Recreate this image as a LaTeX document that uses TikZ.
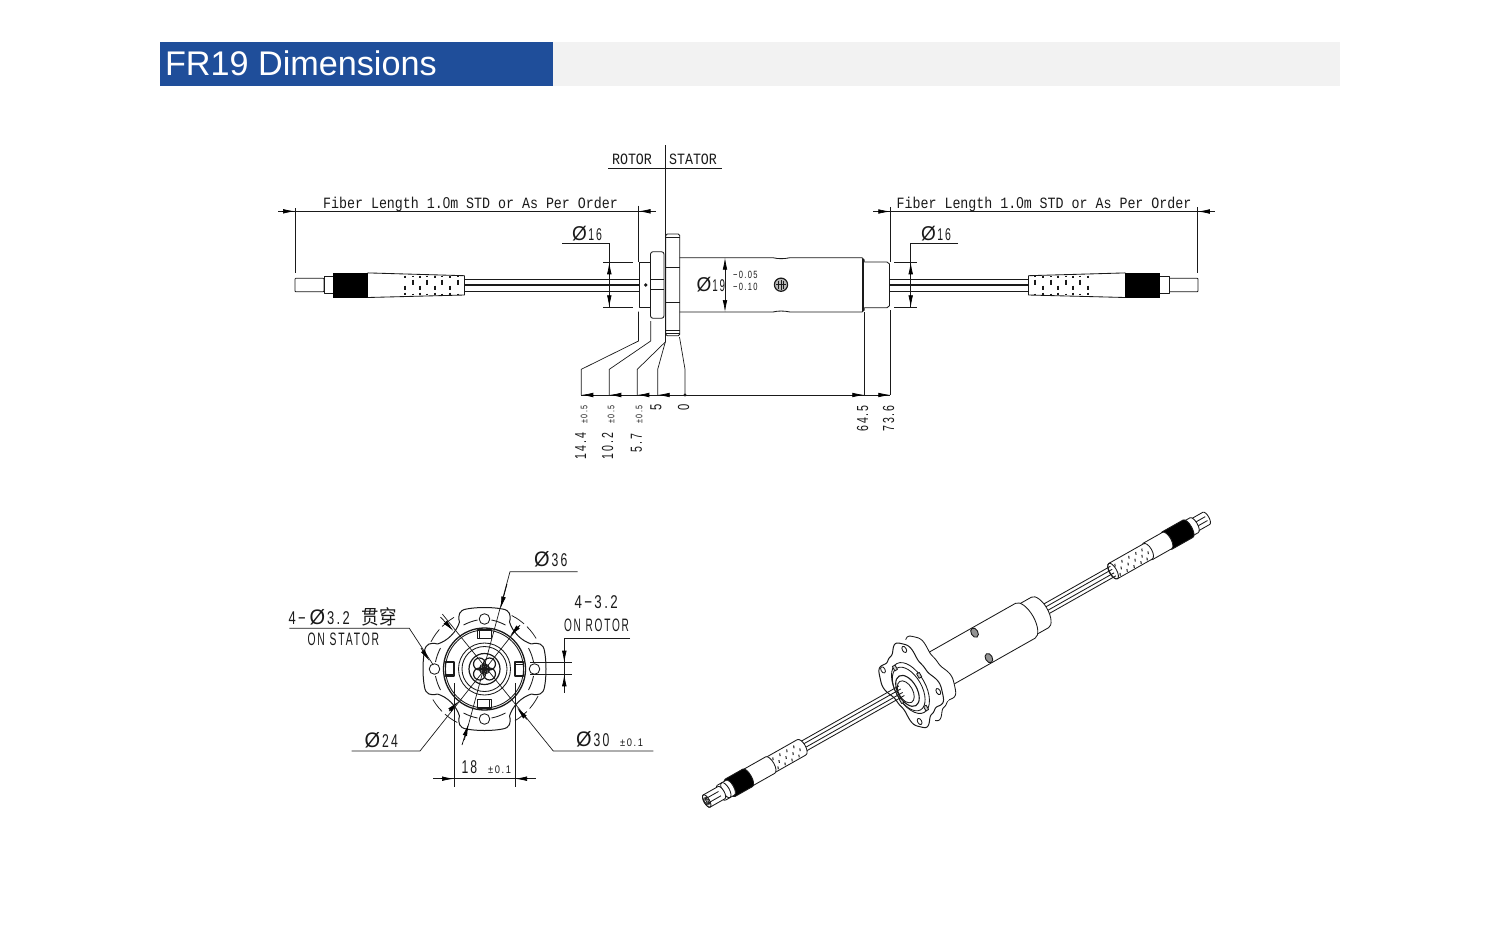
\documentclass[tikz,border=0pt]{standalone}
\usepackage{fontspec}
\setmainfont{Liberation Sans}
\newfontfamily\monof{Liberation Mono}
\newfontfamily\spacedf[LetterSpace=18]{Liberation Sans}
\newfontfamily\cjkf{Noto Sans CJK SC}[Scale=1]
\usetikzlibrary{arrows.meta}
\definecolor{ink}{HTML}{1A1A1A}
\definecolor{headblue}{HTML}{1F4E9A}
\definecolor{headgray}{HTML}{F2F2F2}
\newcommand{\mono}[2]{\scalebox{1}[1.18]{\monof\fontsize{#1}{#1}\selectfont #2}}
\newcommand{\plainzero}{{\rmfamily 0}}
% narrow drawing-style text: size, horizontal squeeze, text
\newcommand{\nar}[3]{\scalebox{#2}[1]{\spacedf\fontsize{#1}{#1}\selectfont #3}}
\newcommand{\phisym}[1]{\scalebox{1}[1.05]{\fontsize{#1}{#1}\selectfont Ø}}
\tikzset{
  x=1pt,y=-1pt,
  part/.style={draw=ink,line width=.85pt,line join=round},
  heavy/.style={draw=ink,line width=1.3pt},
  dimline/.style={draw=ink,line width=.7pt},
  tip/.style={draw=black,line width=.7pt,-{Latex[length=12pt,width=4.6pt]}},
  lab/.style={inner sep=0pt,outer sep=0pt,text=ink},
}
% cylinder in the isometric scope: s0, s1, radius, ellipse half-width
\newcommand{\cyl}[5][white]{\draw[part,fill=#1] (#3,-#4) arc[start angle=90,end angle=-90,x radius=#5pt,y radius=#4pt] -- (#2,#4) arc[start angle=-90,end angle=-270,x radius=#5pt,y radius=#4pt] -- cycle;}
% flat connector of the front view, drawn for the left end
\newcommand{\frontconn}{%
  \draw[part,fill=white,rounded corners=.8pt] (295,278.3) rectangle (324,291.7);
  \draw[part,fill=white] (324,276) rectangle (333.3,293.5);
  \fill[black] (333.3,272.7) rectangle (367.7,297.7);
  \draw[part] (367.7,272.9) -- (464.5,275.7) -- (464.5,295) -- (367.7,297.5);
  \foreach \c in {405,450,495,540}{
    \draw[ink,line width=1.8pt] (270+\c/3,275.5) -- ++(0,2.2) (270+\c/3,285.5) -- ++(0,4) (270+\c/3,292.5) -- ++(0,2.4);}
  \foreach \c in {428,472,517,565}{
    \draw[ink,line width=1.8pt] (270+\c/3,275.5) -- ++(0,1.2) (270+\c/3,279.5) -- ++(0,5.5) (270+\c/3,293.5) -- ++(0,1.4);}
}
\newcommand{\lobeR}{(41+6*cos(4*\x-112)-1*cos(12*\x-336))}
\begin{document}
\begin{tikzpicture}
\useasboundingbox (0,0) rectangle (1500,927);
\fill[white] (0,0) rectangle (1500,927);
% ---- header
\fill[headgray] (553,41.5) rectangle (1340,86);
\fill[headblue] (159.5,41.5) rectangle (553,86);
\node[lab,anchor=west,text=white,font=\fontsize{34.2}{34.2}\selectfont] (title) at (165,63.5) {FR19 Dimensions};

% ---- front view: connectors and cables
\frontconn
\begin{scope}[xshift=1493pt,xscale=-1]\frontconn\end{scope}
\foreach \xa/\xb in {464.5/639,890/1028.5}{
  \draw[part] (\xa,279) -- (\xb,279) (\xa,291.5) -- (\xb,291.5);
  \draw[heavy] (\xa,285) -- (\xb,285);}
% ---- front view: body
\draw[part,fill=white] (639,262.3) rectangle (650,307.3);
\fill[ink] (645.7,285) circle (1.8);
\draw[part,fill=white,rounded corners=2.5pt] (650.5,251.7) rectangle (664,318.3);
\draw[heavy] (650.5,279.3) -- (664,279.3) (650.5,289.3) -- (664,289.3);
\draw[part,fill=white,rounded corners=1.5pt] (665.7,234) rectangle (679.7,335.7);
\draw[heavy] (665.7,267.7) -- (679.7,267.7) (665.7,302.3) -- (679.7,302.3);
\draw[part] (666,237.5) -- (679.5,237.5) (666,330.5) -- (679.5,330.5) (666,333) -- (679.5,333);
\draw[part] (679.7,257.7) -- (773,257.7) .. controls (778,259) and (784,259) .. (790,257.7) -- (862,257.7) -- (864.3,260) -- (864.3,262);
\draw[part] (679.7,312) -- (773,312) .. controls (778,310.7) and (784,310.7) .. (790,312) -- (862,312) -- (864.3,310) -- (864.3,307.7);
\draw[line width=1.1pt,draw=ink] (863,259) -- (863,311);
\draw[part] (864.3,262) -- (887,262) -- (889.5,264) -- (889.5,305.7) -- (887,307.7) -- (864.3,307.7);
\draw[ink,line width=1.2pt,fill=gray!55] (781,284.7) circle (6.6);
\draw[ink,line width=.8pt] (778.5,280.7) -- (778.5,288.7) (783.5,280.7) -- (783.5,288.7) (776,284.7) -- (786,284.7);
\draw[ink,line width=.8pt] (781,280) -- (781,289.5);

% ---- section line, ROTOR / STATOR
\coordinate (secT) at (665.3,145);
\coordinate (secB) at (665.3,342);
\draw[dimline] (secT) -- (secB);
\draw[dimline] (608,168.3) -- (722,168.3);
\node[lab] (rotor) at (632,159.8) {\mono{13.3}{ROTOR}};
\node[lab] (stator) at (693,159.8) {\mono{13.3}{STATOR}};

% ---- fibre length dimensions
\coordinate (fa) at (295,211.3); \coordinate (fb) at (638.5,211.3);
\draw[dimline] (278,211.3) -- (655.5,211.3);
\draw[dimline] (295,208) -- (295,272.7) (638.5,205.7) -- (638.5,262);
\draw[tip] (282,211.3) -- (fa);
\draw[tip] (650.5,211.3) -- (fb);
\node[lab] (fl) at (470.5,204.5) {\mono{13.3}{Fiber Length 1.\plainzero m STD or As Per Order}};
\coordinate (fc) at (890.3,211.5); \coordinate (fd) at (1197.8,211.5);
\draw[dimline] (873,211.5) -- (1215,211.5);
\draw[dimline] (890.3,207) -- (890.3,262) (1197.8,207) -- (1197.8,273);
\draw[tip] (878,211.5) -- (fc);
\draw[tip] (1210,211.5) -- (fd);
\node[lab] (fr) at (1044,204.5) {\mono{13.3}{Fiber Length 1.\plainzero m STD or As Per Order}};

% ---- phi 16 left and right
\coordinate (pl) at (609.3,243.7);
\draw[dimline] (562,243.7) -- (pl) -- (609.3,308);
\draw[dimline] (603,262.3) -- (633,262.3) (603,307.3) -- (633,307.3);
\draw[tip] (609.3,275) -- (609.3,262.3);
\draw[tip] (609.3,295) -- (609.3,307.3);
\node[lab,anchor=west] (p16l) at (572,233.5) {\phisym{19}\hspace{1.5pt}\nar{17}{.62}{16}};
\coordinate (pr) at (910.7,243.3);
\draw[dimline] (958,243.3) -- (pr) -- (910.7,308);
\draw[dimline] (894,262.3) -- (917,262.3) (894,307.3) -- (917,307.3);
\draw[tip] (910.7,275) -- (910.7,262.3);
\draw[tip] (910.7,295) -- (910.7,307.3);
\node[lab,anchor=west] (p16r) at (921,233.5) {\phisym{19}\hspace{1.5pt}\nar{17}{.62}{16}};

% ---- phi 19
\draw[tip] (725,270) -- (725,257.7);
\draw[tip] (725,300) -- (725,312);
\draw[dimline] (725,270) -- (725,300);
\node[lab,anchor=west] (p19) at (696.5,285) {\phisym{19}\hspace{1pt}\nar{17}{.58}{19}};
\node[lab,anchor=west] (tolu) at (733,275) {\nar{10.5}{.72}{−0.05}};
\node[lab,anchor=west] (toll) at (733,287) {\nar{10.5}{.72}{−0.10}};

% ---- bottom dimension chain
\coordinate (d1) at (581.3,395); \coordinate (d2) at (609.3,395); \coordinate (d3) at (637.3,395);
\coordinate (d4) at (657.7,395); \coordinate (d5) at (685,395); \coordinate (d6) at (864.3,395); \coordinate (d7) at (890.3,395);
\draw[dimline] (d1) -- (d7);
\draw[dimline] (638.5,311.7) -- (638.5,341) -- (581.3,369.3) -- (d1);
\draw[dimline] (650.7,321) -- (650.7,341) -- (609.3,369.3) -- (d2);
\draw[dimline] (secB) -- (637.3,369.3) -- (d3);
\draw[dimline] (secB) -- (657.7,369.3) -- (d4);
\draw[dimline] (679.5,337) -- (685,369.3) -- (d5);
\draw[dimline] (864.3,312) -- (d6);
\draw[dimline] (890.3,310) -- (d7);
\draw[tip] (593.3,395) -- (d1);
\draw[tip] (621.3,395) -- (d2);
\draw[tip] (649.3,395) -- (d3);
\draw[tip] (669.7,395) -- (d4);
\draw[tip] (852.3,395) -- (d6);
\draw[tip] (878.3,395) -- (d7);
\fill[ink] (d5) circle (1.6);
\foreach \n/\xx/\yy/\t in {a/580.5/446/14.4,b/607.5/446/10.2,c/636.5/443/5.7}{
  \node[lab,rotate=90] (v\n) at (\xx,\yy) {\nar{16}{.66}{\t}};}
\foreach \n/\xx in {a/584,b/611,c/639}{
  \node[lab,rotate=90] (t\n) at (\xx,414.5) {\nar{9.5}{.75}{±0.5}};}
\node[lab,rotate=90] (v5) at (656,407.5) {\nar{16}{.7}{5}};
\node[lab,rotate=90] (v0) at (683.5,407.5) {\nar{16}{.7}{0}};
\node[lab,rotate=90] (v645) at (862.5,418.5) {\nar{16}{.66}{64.5}};
\node[lab,rotate=90] (v736) at (888.5,418.5) {\nar{16}{.66}{73.6}};

% ---- end view
\begin{scope}[shift={(484.5,669)}]
  \foreach \a in {0,90,180,270}{
    \begin{scope}[rotate=\a]
      \draw[part,line width=1pt] (-25,-47) .. controls (-27,-54) and (-25,-59) .. (-18,-60)
        .. controls (-8,-62) and (8,-62) .. (18,-60) .. controls (25,-59) and (27,-54) .. (25,-47)
        .. controls (28,-37) and (37,-28) .. (47,-25);
      \draw[part] (-21,-44) .. controls (-16,-46.5) and (-12,-48) .. (-7,-49) (7,-49) .. controls (12,-48) and (16,-46.5) .. (21,-44);
      \draw[part,fill=white] (0,-50) circle (5.3);
      \draw[part,line width=1.1pt,fill=white] (-7,-39) rectangle (7,-30.5);
      \draw[part] (-5,-39) -- (-5,-30.5);
      \draw[draw=ink,line width=.75pt,dash pattern=on 15pt off 4pt] (27.2,-53.5) arc[start angle=63,end angle=27,radius=60pt];
    \end{scope}}
  \draw[part,line width=1.3pt] (0,0) circle (41);
  \draw[part] (0,0) circle (39);
  \draw[part] (0,0) circle (26);
  \draw[part] (0,0) circle (22.5);
  \draw[part,line width=1.2pt] (0,0) circle (15.5);
  \foreach \dx/\dy in {-5/-5,5/-5,-5/5,5/5}{\draw[part,line width=1.2pt] (\dx,\dy) circle (6);}
  \foreach \a in {0,45,...,315}{\draw[ink,line width=1pt] (\a:3) circle (2.2);}
\end{scope}
% end view leaders
\coordinate (c36a) at (510,571.7); \coordinate (c36b) at (464.3,740);
\draw[dimline] (577.7,571.7) -- (c36a) -- (c36b);
\draw[tip] (507,584) -- (500.5,608.5);
\draw[tip] (462,745) -- (468.5,724);
\coordinate (c30a) at (442.3,614); \coordinate (c30b) at (553.3,751);
\draw[dimline] (653.3,751) -- (c30b) -- (c30a);
\draw[tip] (440.5,617) -- (453.5,631);
\draw[tip] (527,719.5) -- (517,708);
\coordinate (c24a) at (420,751); \coordinate (c24b) at (520,625);
\draw[dimline] (351.7,751) -- (c24a) -- (c24b);
\draw[tip] (519,626) -- (510,636);
\draw[tip] (449,711) -- (458.3,701.5);
\coordinate (hl) at (409.3,628.3);
\draw[dimline] (289.3,628.3) -- (hl) -- (433.3,665);
\draw[tip] (421,648) -- (429.5,661);
\coordinate (hr) at (564.3,638.3);
\draw[dimline] (630,638.3) -- (hr) -- (564.3,693.3);
\draw[dimline] (530,662.7) -- (571.7,662.7) (530,674.3) -- (571.7,674.3);
\draw[tip] (564.3,650.7) -- (564.3,662.7);
\draw[tip] (564.3,686.3) -- (564.3,674.3);
\coordinate (w18a) at (454,778.7); \coordinate (w18b) at (515,778.7);
\draw[dimline] (433.3,778.7) -- (536,778.7);
\draw[dimline] (454,683) -- (454,786.7) (515,683) -- (515,786.7);
\draw[tip] (441,778.7) -- (w18a);
\draw[tip] (528,778.7) -- (w18b);
% end view labels
\node[lab,anchor=west] (l36) at (534,559.5) {\phisym{20}\hspace{2pt}\nar{18.5}{.66}{36}};
\node[lab,anchor=west] (l32s) at (288.5,616.5) {\nar{18.5}{.7}{4−}\hspace{4pt}\phisym{20}\hspace{2pt}\nar{18.5}{.7}{3.2}\hspace{12pt}\scalebox{.92}[1.05]{\cjkf\fontsize{19}{19}\selectfont 贯穿}};
\node[lab,anchor=west] (lsta) at (307.5,639.5) {\nar{18}{.575}{ON STATOR}};
\node[lab,anchor=west] (l32r) at (574.5,602.5) {\nar{18.5}{.72}{4−3.2}};
\node[lab,anchor=west] (lrot) at (564,625.5) {\nar{18}{.56}{ON ROTOR}};
\node[lab,anchor=west] (l24) at (364.5,740) {\phisym{20}\hspace{2pt}\nar{18.5}{.66}{24}};
\node[lab,anchor=west] (l30) at (576,739.5) {\phisym{20}\hspace{2pt}\nar{18.5}{.66}{30}};
\node[lab,anchor=west] (l30t) at (620,743) {\nar{11}{.85}{±0.1}};
\node[lab,anchor=west] (l18) at (461.5,767) {\nar{18.5}{.66}{18}};
\node[lab,anchor=west] (l18t) at (488,770) {\nar{11}{.85}{±0.1}};

% ---- isometric view
\begin{scope}[shift={(706.7,801)},rotate=29.5]
  % far connector
  \cyl{560}{574}{7}{2.8}
  \draw[part] (560,-2) -- (574,-2) (560,2.5) -- (574,2.5);
  \cyl{553}{560}{8.5}{3.5}
  \cyl[black]{529}{553}{10}{4}
  \cyl{507}{529}{9.4}{4}
  \cyl{467}{507}{8.8}{4}
  \draw[part] (467,0) ellipse[x radius=3.5pt,y radius=8.8pt];
  \foreach \s in {472,480,488,496,503}{\foreach \t/\o in {-5.5/0,0/4,5/0}{\draw[ink,line width=1pt] (\s+\o,\t) -- ++(-1,2.6);}}
  % far cable
  \foreach \t in {-5.5,-2,2,5.5}{\draw[part] (385,\t) -- (467,\t);}
  \cyl{366}{383}{17.5}{8}
  \cyl{243}{366}{20}{9}
  \foreach \t in {-14.6,14.6}{\draw[ink,line width=.9pt,fill=gray!85] (316,\t) ellipse[x radius=3.4pt,y radius=5pt];}
  % flange
  \draw[part,fill=white] plot[domain=0:360,samples=181] ({249+.58*\lobeR*cos(\x)},{\lobeR*sin(\x)}) -- cycle;
  \fill[white] plot[domain=0:360,samples=181] ({242+.58*\lobeR*cos(\x)},{\lobeR*sin(\x)}) -- cycle;
  \draw[part,line width=1pt,fill=white] plot[domain=0:360,samples=181] ({235+.58*\lobeR*cos(\x)},{\lobeR*sin(\x)}) -- cycle;
  \foreach \a in {-60,28,117,223}{\draw[part] ({235+.58*40*cos(\a)},{40*sin(\a)}) ellipse[x radius=2pt,y radius=3.4pt];}
  \draw[part] (233,2) ellipse[x radius=15pt,y radius=28pt];
  \draw[part] (231,2) ellipse[x radius=13pt,y radius=24pt];
  \foreach \a in {-15,75,165,255}{\draw[part,fill=gray!40] ({233+.55*26*cos(\a)},{2+26*sin(\a)}) ++(-1.5,-2.5) rectangle ++(3,5);}
  \draw[part,line width=1.1pt,fill=white] (229,3) ellipse[x radius=9.5pt,y radius=17pt];
  \draw[part] (227,3) ellipse[x radius=7pt,y radius=12pt];
  % near cable
  \foreach \t in {-5.5,-2,2,5.5}{\draw[part] (109,\t) -- (224,\t);}
  % near connector
  \cyl{73}{109}{8.8}{4}
  \foreach \s in {79,87,95,103}{\foreach \t/\o in {-5.5/0,0/4,5/0}{\draw[ink,line width=1pt] (\s+\o,\t) -- ++(-1,2.6);}}
  \cyl{47}{73}{9.4}{4}
  \cyl[black]{27}{47}{10}{4}
  \cyl{17}{27}{8.5}{3.5}
  \draw[part] (22,0) ellipse[x radius=3.5pt,y radius=8.5pt];
  \cyl{0}{17}{7}{2.8}
  \draw[part] (0,0) ellipse[x radius=2.8pt,y radius=7pt];
  \draw[part] (0,-2.5) -- (15,-2.5) (0,2.5) -- (15,2.5);
  \foreach \a in {0,60,...,300}{\draw[ink,line width=.6pt] (\a:1.4pt and 3.2pt) circle (1.3);}
\end{scope}
\end{tikzpicture}
\end{document}
